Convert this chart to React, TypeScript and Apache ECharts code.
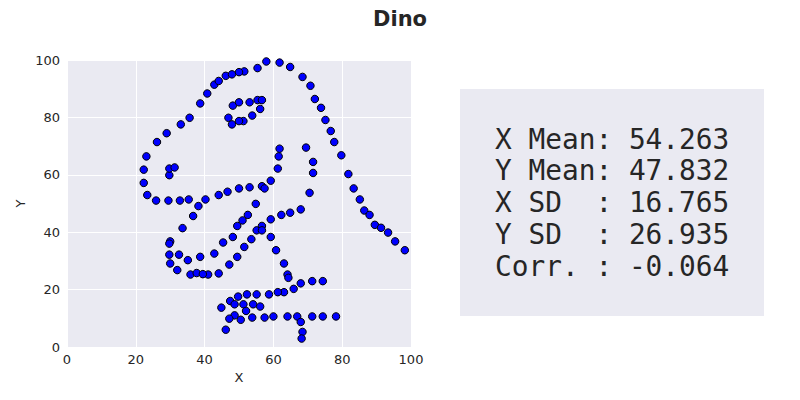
import React, { useEffect, useRef } from "react";
import * as echarts from "echarts";

const xValues: number[] = [
  55.3846, 51.5385, 46.1538, 42.8205, 40.7692, 38.7179, 35.641, 33.0769, 28.9744, 26.1538,
  23.0769, 22.3077, 22.3077, 23.3333, 25.8974, 29.4872, 32.8205, 35.3846, 40.2564, 44.1026,
  46.6667, 50, 53.0769, 56.6667, 59.2308, 61.2821, 61.5385, 61.7949, 57.4359, 54.8718,
  52.5641, 48.2051, 49.4872, 51.0256, 45.3846, 42.8205, 38.7179, 35.1282, 32.5641, 30,
  33.5897, 36.6667, 38.2051, 29.7436, 29.7436, 30, 32.0513, 35.8974, 41.0256, 44.1026,
  47.1795, 49.4872, 51.5385, 53.5897, 55.1282, 56.6667, 59.2308, 62.3077, 64.8718, 67.9487,
  70.5128, 71.5385, 71.5385, 69.4872, 46.9231, 48.2051, 50, 53.0769, 55.3846, 56.6667,
  56.1538, 53.8462, 51.2821, 50, 47.9487, 29.7436, 29.7436, 31.2821, 57.9487, 61.7949,
  64.8718, 68.4615, 70.7692, 72.0513, 73.8462, 75.1282, 76.6667, 77.6923, 79.7436, 81.7949,
  83.3333, 85.1282, 86.4103, 87.9487, 89.4872, 93.3333, 95.3846, 98.2051, 56.6667, 59.2308,
  60.7692, 63.0769, 64.1026, 64.359, 74.359, 71.2821, 67.9487, 65.8974, 63.0769, 61.2821,
  58.7179, 55.1282, 52.3077, 49.7436, 47.4359, 44.8718, 48.7179, 51.2821, 54.1026, 56.1538,
  52.0513, 48.7179, 47.1795, 46.1538, 50.5128, 53.8462, 57.4359, 60, 64.1026, 66.9231,
  71.2821, 74.359, 78.2051, 67.9487, 68.4615, 68.2051, 37.6923, 39.4872, 91.2821, 50,
  47.9487, 44.1026,
];

const yValues: number[] = [
  97.1795, 96.0256, 94.4872, 91.4103, 88.3333, 84.8718, 79.8718, 77.5641, 74.4872, 71.4103,
  66.4103, 61.7949, 57.1795, 52.9487, 51.0256, 51.0256, 51.0256, 51.4103, 51.4103, 52.9487,
  54.1026, 55.2564, 55.641, 56.0256, 57.9487, 62.1795, 66.4103, 69.1026, 55.2564, 49.8718,
  46.0256, 38.3333, 42.1795, 44.1026, 36.4103, 32.5641, 31.4103, 30.2564, 32.1795, 36.7949,
  41.4103, 45.641, 49.1026, 36.0256, 32.1795, 29.1026, 26.7949, 25.2564, 25.2564, 25.641,
  28.718, 31.4103, 34.8718, 37.5641, 40.641, 42.1795, 44.4872, 46.0256, 46.7949, 47.9487,
  53.718, 60.641, 64.4872, 69.4872, 79.8718, 84.1026, 85.2564, 85.2564, 86.0256, 86.0256,
  82.9487, 80.641, 78.718, 78.718, 77.5641, 59.8718, 62.1795, 62.5641, 99.4872, 99.1026,
  97.5641, 94.1026, 91.0256, 86.4103, 83.3333, 79.1026, 75.2564, 71.4103, 66.7949, 60.2564,
  55.2564, 51.4103, 47.5641, 46.0256, 42.5641, 39.8718, 36.7949, 33.718, 40.641, 38.3333,
  33.718, 29.1026, 25.2564, 24.1026, 22.9487, 22.9487, 22.1795, 20.2564, 19.1026, 19.1026,
  18.3333, 18.3333, 18.3333, 17.5641, 16.0256, 13.7179, 14.8718, 14.8718, 14.8718, 14.1026,
  12.5641, 11.0256, 9.8718, 6.0256, 9.4872, 10.2564, 10.2564, 10.641, 10.641, 10.641,
  10.641, 10.641, 10.641, 8.718, 5.2564, 2.9487, 25.7692, 25.3846, 41.5385, 95.7692,
  95, 92.6923,
];

const titleText = "Dino";
const statLabels: string[] = ["X Mean: ", "Y Mean: ", "X SD  : ", "Y SD  : ", "Corr. : "];
const statValues: string[] = ["54.263", "47.832", "16.765", "26.935", "-0.064"];

const BG = "#EAEAF2";
const INK = "#262626";

export default function App() {
  const ref = useRef<HTMLDivElement>(null);
  useEffect(() => {
    if (!ref.current) return;
    const chart = echarts.init(ref.current, undefined, { renderer: "svg" });
    const points = xValues.map((x, i) => [x, yValues[i]]);
    const statTexts = statLabels.map((l, i) => ({
      type: "text",
      left: 495,
      top: 125 + i * 31.8,
      style: {
        text: l + statValues[i],
        fill: INK,
        font: "27.8px 'DejaVu Sans Mono', monospace",
      },
    }));
    chart.setOption({
      animation: false,
      backgroundColor: "#ffffff",
      title: {
        text: titleText,
        left: "center",
        top: 3,
        textStyle: { fontFamily: "DejaVu Sans", fontWeight: "bold", fontSize: 21, color: INK },
      },
      grid: { left: 67, right: 389, top: 60, bottom: 53, show: true, backgroundColor: BG, borderWidth: 0 },
      xAxis: {
        type: "value",
        min: 0,
        max: 100,
        interval: 20,
        name: "X",
        nameLocation: "middle",
        nameGap: 24,
        nameTextStyle: { fontFamily: "DejaVu Sans", fontSize: 13, color: INK },
        axisLine: { show: false },
        axisTick: { show: false },
        axisLabel: { fontFamily: "DejaVu Sans", fontSize: 13, color: INK, margin: 6 },
        splitLine: { show: true, lineStyle: { color: "#ffffff", width: 1 } },
      },
      yAxis: {
        type: "value",
        min: 0,
        max: 100,
        interval: 20,
        name: "Y",
        nameLocation: "middle",
        nameGap: 40,
        nameTextStyle: { fontFamily: "DejaVu Sans", fontSize: 13, color: INK },
        axisLine: { show: false },
        axisTick: { show: false },
        axisLabel: { fontFamily: "DejaVu Sans", fontSize: 13, color: INK, margin: 7 },
        splitLine: { show: true, lineStyle: { color: "#ffffff", width: 1 } },
      },
      series: [
        {
          type: "scatter",
          data: points,
          symbolSize: 7.5,
          itemStyle: { color: "#0000FF", borderColor: "#000000", borderWidth: 1, opacity: 1 },
        },
      ],
      graphic: [
        {
          type: "rect",
          left: 460,
          top: 89,
          shape: { width: 304, height: 227 },
          style: { fill: BG },
          z: -1,
        },
        ...statTexts,
      ],
    });
    return () => chart.dispose();
  }, []);
  return <div ref={ref} style={{ width: 800, height: 400, position: "absolute", left: 0, top: 0 }} />;
}
